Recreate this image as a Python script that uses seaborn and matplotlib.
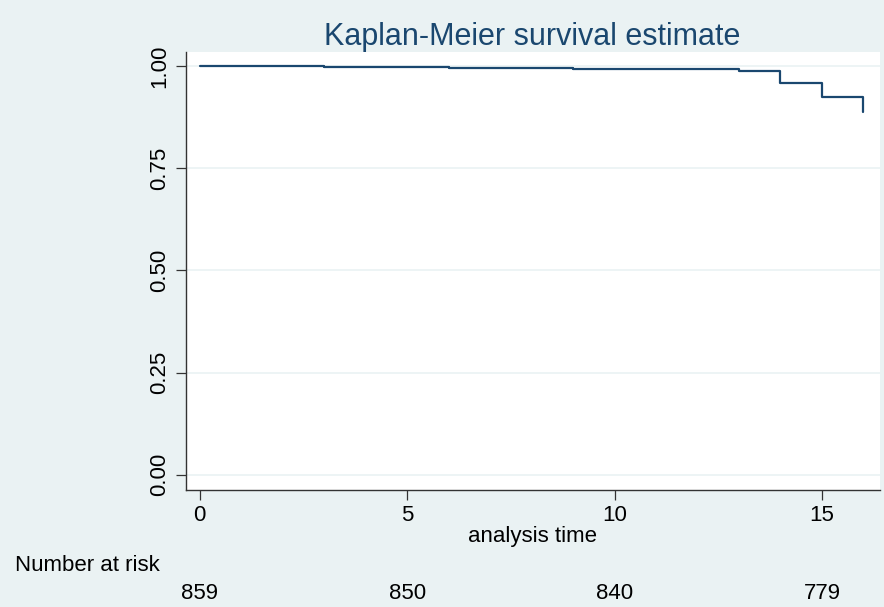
import matplotlib
matplotlib.use('Agg')
import matplotlib.pyplot as plt
import matplotlib.transforms as mtransforms
import seaborn as sns
import pandas as pd

# Kaplan-Meier step values
times = [0, 2, 3, 4, 5, 6, 7, 8, 9, 10, 11, 12, 13, 14, 15, 16]
survival = [1.000, 1.000, 0.998, 0.997, 0.997, 0.995, 0.995, 0.995,
            0.993, 0.993, 0.993, 0.992, 0.988, 0.959, 0.924, 0.888]

# number at risk table
risk_times = [0, 5, 10, 15]
at_risk = [859, 850, 840, 779]

y_ticks = [0.0, 0.25, 0.5, 0.75, 1.0]
x_ticks = [0, 5, 10, 15]

bg = '#EAF2F3'
navy = '#1a476f'

sns.set_theme(style='white')
plt.rcParams['font.family'] = ['Liberation Sans', 'DejaVu Sans']

fig = plt.figure(figsize=(8.84, 6.07), dpi=100, facecolor=bg)
ax = fig.add_axes([0.210, 0.193, 0.785, 0.721])
ax.set_facecolor('white')

df = pd.DataFrame({'time': times, 'survival': survival})
sns.lineplot(data=df, x='time', y='survival', ax=ax, color=navy,
             linewidth=1.6, drawstyle='steps-post', estimator=None)

ax.set_xlim(-0.34, 16.39)
ax.set_ylim(-0.037, 1.034)
ax.set_yticks(y_ticks)
ax.set_yticklabels([f'{v:.2f}' for v in y_ticks], rotation=90, va='center', fontsize=16)
ax.set_xticks(x_ticks)
ax.set_xticklabels([str(v) for v in x_ticks], fontsize=16)
for y in y_ticks:
    ax.axhline(y, color=bg, linewidth=1.2, zorder=0)

for side in ['top', 'right']:
    ax.spines[side].set_visible(False)
for side in ['left', 'bottom']:
    ax.spines[side].set_color('#333333')
    ax.spines[side].set_linewidth(1.0)
ax.tick_params(axis='both', direction='out', length=7, width=0.9, color='#333333',
               labelcolor='black', bottom=True, left=True, pad=4)

ax.set_xlabel('analysis time', fontsize=16, color='black', labelpad=0)
ax.set_ylabel('')
ax.set_title('Kaplan-Meier survival estimate', fontsize=22, color=navy, pad=5)

# number at risk below the axis
trans = mtransforms.blended_transform_factory(ax.transData, fig.transFigure)
fig.text(0.017, 0.068, 'Number at risk', fontsize=16, color='black', va='center', ha='left')
for t, n in zip(risk_times, at_risk):
    ax.text(t, 0.023, str(n), fontsize=16, color='black', ha='center', va='center',
            transform=trans)

fig.savefig('out.png', dpi=100, facecolor=bg)
